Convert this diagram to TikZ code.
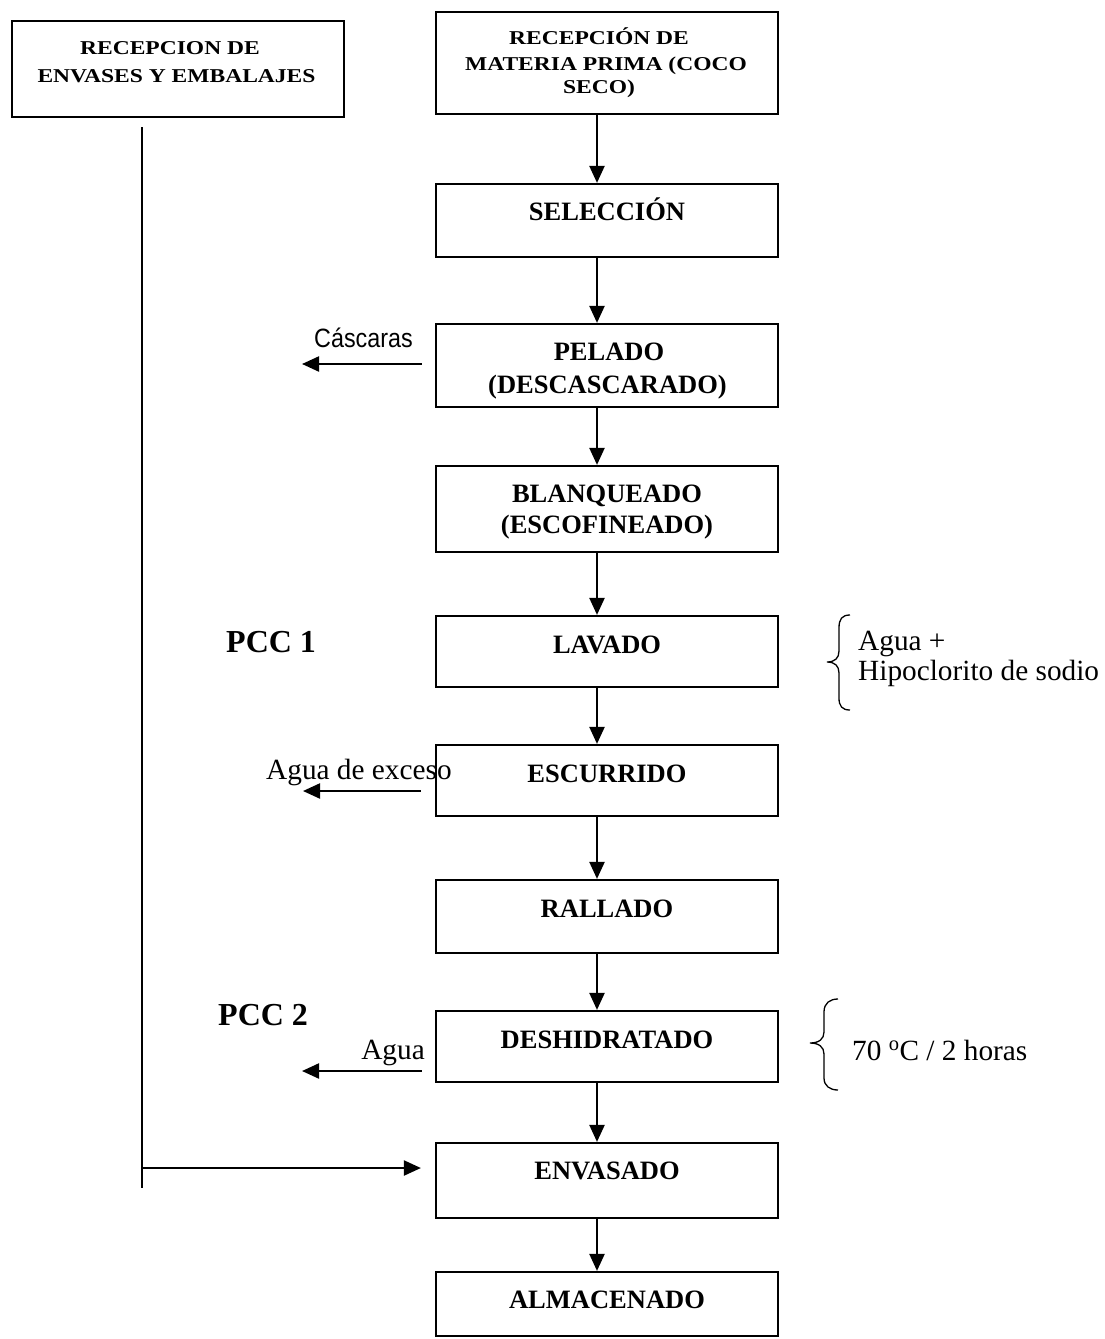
\documentclass[tikz,border=0pt]{standalone}
\usepackage{fontspec}
\setmainfont{Liberation Serif}
\newfontfamily\widefont{Liberation Serif}[FakeStretch=1.2]
\newfontfamily\cascfont{Liberation Sans}[FakeStretch=0.88]
\usetikzlibrary{arrows.meta}
\tikzset{
  box/.style={draw, line width=2.2pt, minimum width=342pt, inner sep=0pt},
  arr/.style={line width=2.2pt, -{Triangle[length=17pt,width=15pt]}},
  thinline/.style={line width=1.1pt},
  bracel/.style={line width=1.3pt},
  btxt/.style={inner sep=0pt, anchor=base, font=\fontsize{26.5}{30}\selectfont\bfseries},
  wtxt/.style={inner sep=0pt, anchor=base, font=\widefont\fontsize{19.6}{24}\selectfont\bfseries},
  pcc/.style={inner sep=0pt, anchor=base west, font=\fontsize{32}{36}\selectfont\bfseries},
  rtxt/.style={inner sep=0pt, anchor=base west, font=\fontsize{29.3}{33}\selectfont},
  stxt/.style={inner sep=0pt, anchor=base west, font=\cascfont\fontsize{26.5}{30}\selectfont}
}
\begin{document}
\begin{tikzpicture}[x=1pt,y=-1pt]
\useasboundingbox (0,0) rectangle (1104,1339);
% boxes
\node[box, minimum width=332pt, minimum height=96pt] (left) at (178,69) {};
\node[box, minimum height=102pt] (top) at (607,63) {};
\node[box, minimum height=73pt] (sel) at (607,220.5) {};
\node[box, minimum height=83pt] (pel) at (607,365.5) {};
\node[box, minimum height=86pt] (bla) at (607,509) {};
\node[box, minimum height=71pt] (lav) at (607,651.5) {};
\node[box, minimum height=71pt] (esc) at (607,780.5) {};
\node[box, minimum height=73pt] (ral) at (607,916.5) {};
\node[box, minimum height=71pt] (des) at (607,1046.5) {};
\node[box, minimum height=75pt] (env) at (607,1180.5) {};
\node[box, minimum height=64pt] (alm) at (607,1304) {};
% box texts
\node[wtxt] (left-t1) at (170,54) {RECEPCION DE};
\node[wtxt] (left-t2) at (176.5,82) {ENVASES Y EMBALAJES};
\node[wtxt] (top-t1) at (599,44) {RECEPCIÓN DE};
\node[wtxt] (top-t2) at (606,70) {MATERIA PRIMA (COCO};
\node[wtxt] (top-t3) at (599,93) {SECO)};
\node[btxt] (sel-t) at (607,220) {SELECCIÓN};
\node[btxt] (pel-t1) at (609,360) {PELADO};
\node[btxt] (pel-t2) at (607.5,393) {(DESCASCARADO)};
\node[btxt] (bla-t1) at (607,502) {BLANQUEADO};
\node[btxt] (bla-t2) at (607,533) {(ESCOFINEADO)};
\node[btxt] (lav-t) at (607,653) {LAVADO};
\node[btxt] (esc-t) at (607,782) {ESCURRIDO};
\node[btxt] (ral-t) at (607,917) {RALLADO};
\node[btxt] (des-t) at (607,1048) {DESHIDRATADO};
\node[btxt] (env-t) at (607,1179) {ENVASADO};
\node[btxt] (alm-t) at (607,1308) {ALMACENADO};
% main vertical arrows
\foreach \a/\b in {top/sel, sel/pel, pel/bla, bla/lav, lav/esc, esc/ral, ral/des, des/env, env/alm}
  \draw[arr] ([xshift=-10pt]\a.south) -- ([xshift=-10pt]\b.north);
% side outputs
\coordinate (cas) at (302,364);
\draw[arr, shorten <=13pt] (cas -| pel.west) -- (cas);
\node[stxt] (cas-t) at (314,347) {Cáscaras};
\coordinate (exc) at (303,791);
\draw[arr, shorten <=14pt] (exc -| esc.west) -- (exc);
\node[rtxt] (exc-t) at (266,779) {Agua de exceso};
\coordinate (agu) at (302,1071);
\draw[arr, shorten <=13pt] (agu -| des.west) -- (agu);
\node[inner sep=0pt, anchor=base east, font=\fontsize{29.3}{33}\selectfont] (agu-t) at (425,1059) {Agua};
% PCC labels
\node[pcc] (pcc1) at (226,652) {PCC 1};
\node[pcc] (pcc2) at (218,1025) {PCC 2};
% braces and notes
\draw[bracel] (850,615) .. controls (842,615) and (839,619) .. (839,628) -- (839,651)
  .. controls (839,658) and (835,662) .. (827,662)
  .. controls (835,662) and (839,666) .. (839,673) -- (839,698)
  .. controls (839,706) and (842,710) .. (850,710);
\node[rtxt] (lav-n1) at (858,650) {Agua +};
\node[rtxt] (lav-n2) at (858,680) {Hipoclorito de sodio};
\draw[bracel] (838,999) .. controls (830,999) and (824,1003) .. (824,1012) -- (824,1032)
  .. controls (824,1039) and (819,1043) .. (810,1043)
  .. controls (819,1043) and (824,1047) .. (824,1054) -- (824,1078)
  .. controls (824,1086) and (830,1090) .. (838,1090);
\node[rtxt] (des-n) at (852,1060) {70 \textsuperscript{o}C / 2 horas};
% packaging line
\coordinate (lt) at (142,127);
\coordinate (lb) at (142,1188);
\draw[thinline] (lt) -- (lb);
\coordinate (jn) at (142,1168);
\draw[arr, shorten >=14pt] (jn) -- (jn -| env.west);
\end{tikzpicture}
\end{document}
